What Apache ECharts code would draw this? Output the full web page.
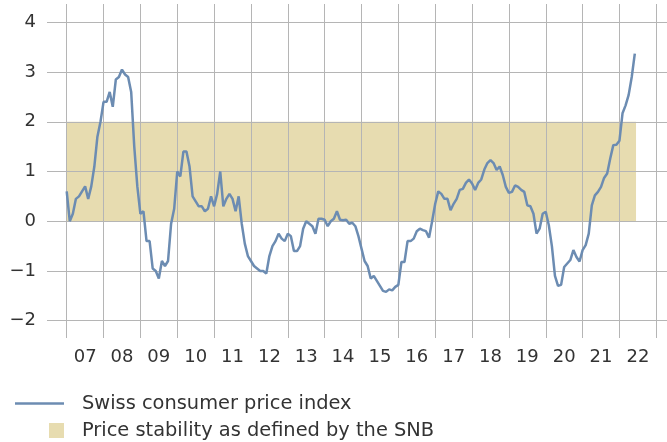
<!DOCTYPE html>
<html>
<head>
<meta charset="utf-8">
<script src="https://cdn.jsdelivr.net/npm/echarts@6/dist/echarts.min.js"></script>
<style>
  html, body { margin: 0; padding: 0; background: #fff; }
  #chart { width: 667px; height: 442px; }
</style>
</head>
<body>
<div id="chart"></div>
<script>
// Year labels shown between the vertical grid lines
const yearLabels = ['07', '08', '09', '10', '11', '12', '13', '14', '15', '16', '17', '18', '19', '20', '21', '22']

// Swiss CPI, year-on-year change in %, monthly from Jan 2007
const cpi2007 = [0.6, 0.0, 0.15, 0.45, 0.5, 0.6, 0.7, 0.45, 0.7, 1.1, 1.7, 2.0]
const cpi2008 = [2.4, 2.4, 2.6, 2.3, 2.85, 2.9, 3.05, 2.95, 2.9, 2.6, 1.5, 0.7]
const cpi2009 = [0.15, 0.2, -0.4, -0.4, -0.95, -1.0, -1.15, -0.8, -0.9, -0.8, -0.05, 0.25]
const cpi2010 = [1.0, 0.9, 1.4, 1.4, 1.1, 0.5, 0.4, 0.3, 0.3, 0.2, 0.25, 0.5]
const cpi2011 = [0.3, 0.55, 1.0, 0.3, 0.45, 0.55, 0.45, 0.2, 0.5, -0.05, -0.45, -0.7]
const cpi2012 = [-0.8, -0.9, -0.95, -1.0, -1.0, -1.05, -0.7, -0.5, -0.4, -0.25, -0.35, -0.4]
const cpi2013 = [-0.25, -0.3, -0.6, -0.6, -0.5, -0.15, 0.0, -0.05, -0.1, -0.25, 0.05, 0.05]
const cpi2014 = [0.03, -0.1, 0.0, 0.05, 0.2, 0.03, 0.02, 0.03, -0.05, -0.03, -0.1, -0.3]
const cpi2015 = [-0.55, -0.8, -0.9, -1.15, -1.1, -1.2, -1.3, -1.4, -1.42, -1.37, -1.39, -1.32]
const cpi2016 = [-1.28, -0.82, -0.82, -0.4, -0.4, -0.35, -0.2, -0.15, -0.18, -0.2, -0.33, 0.0]
const cpi2017 = [0.35, 0.6, 0.55, 0.45, 0.45, 0.22, 0.35, 0.45, 0.63, 0.65, 0.77, 0.84]
const cpi2018 = [0.76, 0.63, 0.77, 0.84, 1.04, 1.17, 1.23, 1.17, 1.03, 1.1, 0.93, 0.69]
const cpi2019 = [0.57, 0.59, 0.72, 0.69, 0.63, 0.59, 0.32, 0.3, 0.15, -0.25, -0.15, 0.15]
const cpi2020 = [0.19, -0.08, -0.5, -1.1, -1.3, -1.28, -0.92, -0.85, -0.78, -0.58, -0.72, -0.81]
const cpi2021 = [-0.58, -0.48, -0.25, 0.32, 0.52, 0.59, 0.69, 0.87, 0.96, 1.26, 1.53, 1.54]
const cpi2022 = [1.62, 2.17, 2.33, 2.54, 2.9, 3.37]

const firstYear = 2007
const lastYear = 2023

// SNB price stability range: 0-2 %
const bandYears = [2007, 2022.45]
const bandLevels = [0, 2]

const yMin = -2
const yMax = 4

const lineColor = '#6c8cb2'
const bandColor = '#e7dcb0'
const gridColor = '#b5b5b5'
const textColor = '#333'
const font = 'DejaVu Sans'

const cpiValues = [].concat(cpi2007, cpi2008, cpi2009, cpi2010, cpi2011, cpi2012, cpi2013,
    cpi2014, cpi2015, cpi2016, cpi2017, cpi2018, cpi2019, cpi2020, cpi2021, cpi2022)
const cpiData = cpiValues.map((v, i) => [firstYear + i / 12, v])

const chart = echarts.init(document.getElementById('chart'))

const options = {
    animation: false,
    textStyle: { fontFamily: font },
    grid: [
        // horizontal grid lines + y labels
        { left: 47, right: 0, top: 22.3, bottom: 121.3 },
        // plot area with vertical lines
        { left: 66.7, right: 10.7, top: 4, bottom: 104 }
    ],
    xAxis: [
        { gridIndex: 0, type: 'value', show: false },
        {
            gridIndex: 1,
            type: 'category',
            data: yearLabels,
            boundaryGap: true,
            z: 3,
            axisLine: { show: false },
            axisTick: { show: false },
            axisLabel: { interval: 0, fontSize: 18, color: textColor, margin: 10, fontFamily: font },
            splitLine: { show: true, interval: 0, lineStyle: { color: gridColor, width: 1 } }
        },
        { gridIndex: 1, type: 'value', min: firstYear, max: lastYear, show: false }
    ],
    yAxis: [
        {
            gridIndex: 0,
            type: 'value',
            min: yMin,
            max: yMax,
            interval: 1,
            z: 3,
            axisLine: { show: false },
            axisTick: { show: false },
            axisLabel: {
                fontSize: 18, color: textColor, margin: 11, fontFamily: font,
                formatter: v => String(v).replace('-', '\u2212')
            },
            splitLine: { lineStyle: { color: gridColor, width: 1 } }
        },
        { gridIndex: 1, type: 'value', min: -2.348, max: 4.368, show: false }
    ],
    legend: [
        {
            data: [{ name: 'Swiss consumer price index', icon: 'rect' }],
            left: 10, top: 389,
            itemWidth: 49, itemHeight: 2.5,
            selectedMode: false,
            textStyle: { fontSize: 19.4, color: textColor, fontFamily: font, padding: [0, 0, 0, 13] }
        },
        {
            data: [{ name: 'Price stability as defined by the SNB', icon: 'rect' }],
            left: 44, top: 416,
            itemWidth: 15, itemHeight: 15,
            selectedMode: false,
            textStyle: { fontSize: 19.4, color: textColor, fontFamily: font, padding: [0, 0, 0, 13] }
        }
    ],
    series: [
        {
            name: 'Price stability as defined by the SNB',
            type: 'line',
            xAxisIndex: 2,
            yAxisIndex: 1,
            data: [],
            z: 1,
            itemStyle: { color: bandColor },
            lineStyle: { color: bandColor },
            markArea: {
                silent: true,
                itemStyle: { color: bandColor },
                data: [[
                    { xAxis: bandYears[0], yAxis: bandLevels[0] },
                    { xAxis: bandYears[1], yAxis: bandLevels[1] }
                ]]
            }
        },
        {
            name: 'Swiss consumer price index',
            type: 'line',
            xAxisIndex: 2,
            yAxisIndex: 1,
            data: cpiData,
            z: 5,
            showSymbol: false,
            itemStyle: { color: lineColor },
            lineStyle: { color: lineColor, width: 2.5 }
        }
    ]
}
chart.setOption(options)
</script>
</body>
</html>
